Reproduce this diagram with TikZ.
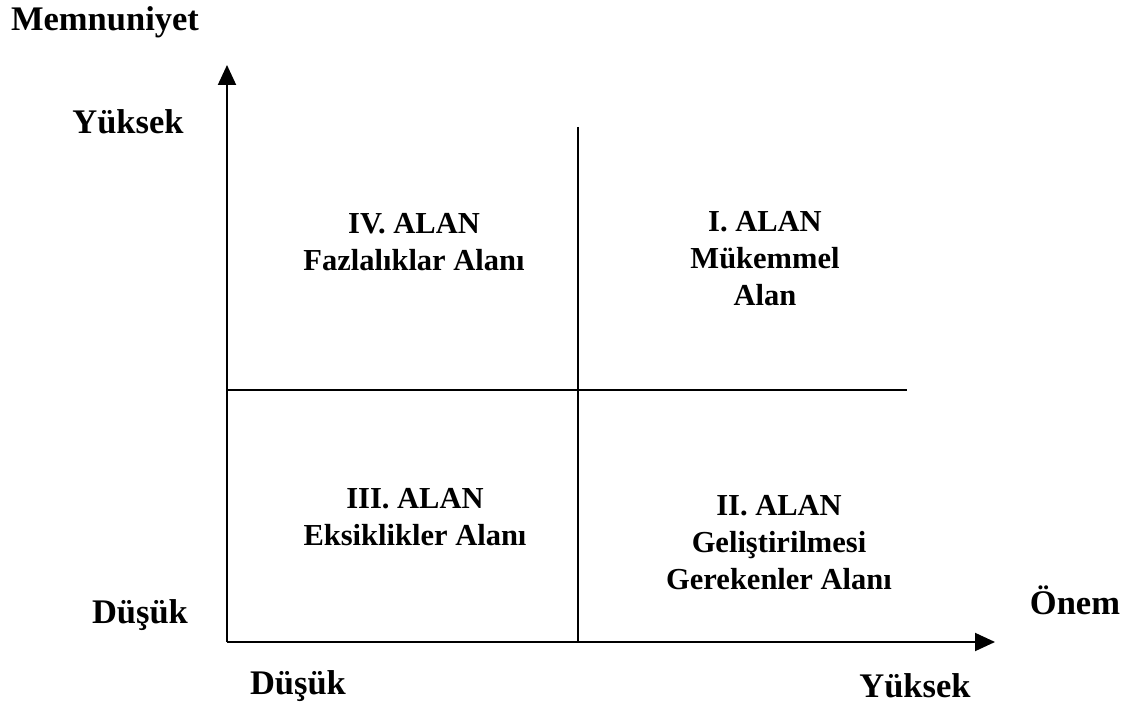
\documentclass[tikz,border=0pt]{standalone}
\usepackage{fontspec}
\setmainfont{Liberation Serif}
\usetikzlibrary{arrows.meta}
\begin{document}
\begin{tikzpicture}[x=1pt,y=-1pt,
  lbl/.style={font=\bfseries\fontsize{30.5}{37}\selectfont, align=center, inner sep=0pt},
  axlbl/.style={font=\bfseries\fontsize{34.5}{40}\selectfont, inner sep=0pt},
  axis/.style={line width=2pt, -{Triangle[length=20pt,width=18pt]}},
  divider/.style={line width=1.4pt}]
\useasboundingbox (0,0) rectangle (1133,703);
\coordinate (o) at (227,642);
\coordinate (ytip) at (227,65);
\coordinate (xtip) at (995,642);
\coordinate (vtop) at (578,127);
\coordinate (vbot) at (578,642);
\coordinate (hl) at (227,390);
\coordinate (hr) at (907,390);
\draw[divider] (vtop) -- (vbot);
\draw[divider] (hl) -- (hr);
\draw[axis] (o) -- (ytip);
\draw[axis] (o) -- (xtip);
\node[axlbl] (mem) at (105,22) {Memnuniyet};
\node[axlbl] (yh) at (128,122) {Yüksek};
\node[axlbl] (yl) at (140,615) {Düşük};
\node[axlbl] (onem) at (1075,600) {Önem};
\node[axlbl] (xl) at (298,686) {Düşük};
\node[axlbl] (xh) at (915,686) {Yüksek};
\node[lbl] (q4) at (414,242) {IV. ALAN\\Fazlalıklar Alanı};
\node[lbl] (q1) at (765,259) {I. ALAN\\Mükemmel\\Alan};
\node[lbl] (q3) at (415,517) {III. ALAN\\Eksiklikler Alanı};
\node[lbl] (q2) at (779,543) {II. ALAN\\Geliştirilmesi\\Gerekenler Alanı};
\end{tikzpicture}
\end{document}
